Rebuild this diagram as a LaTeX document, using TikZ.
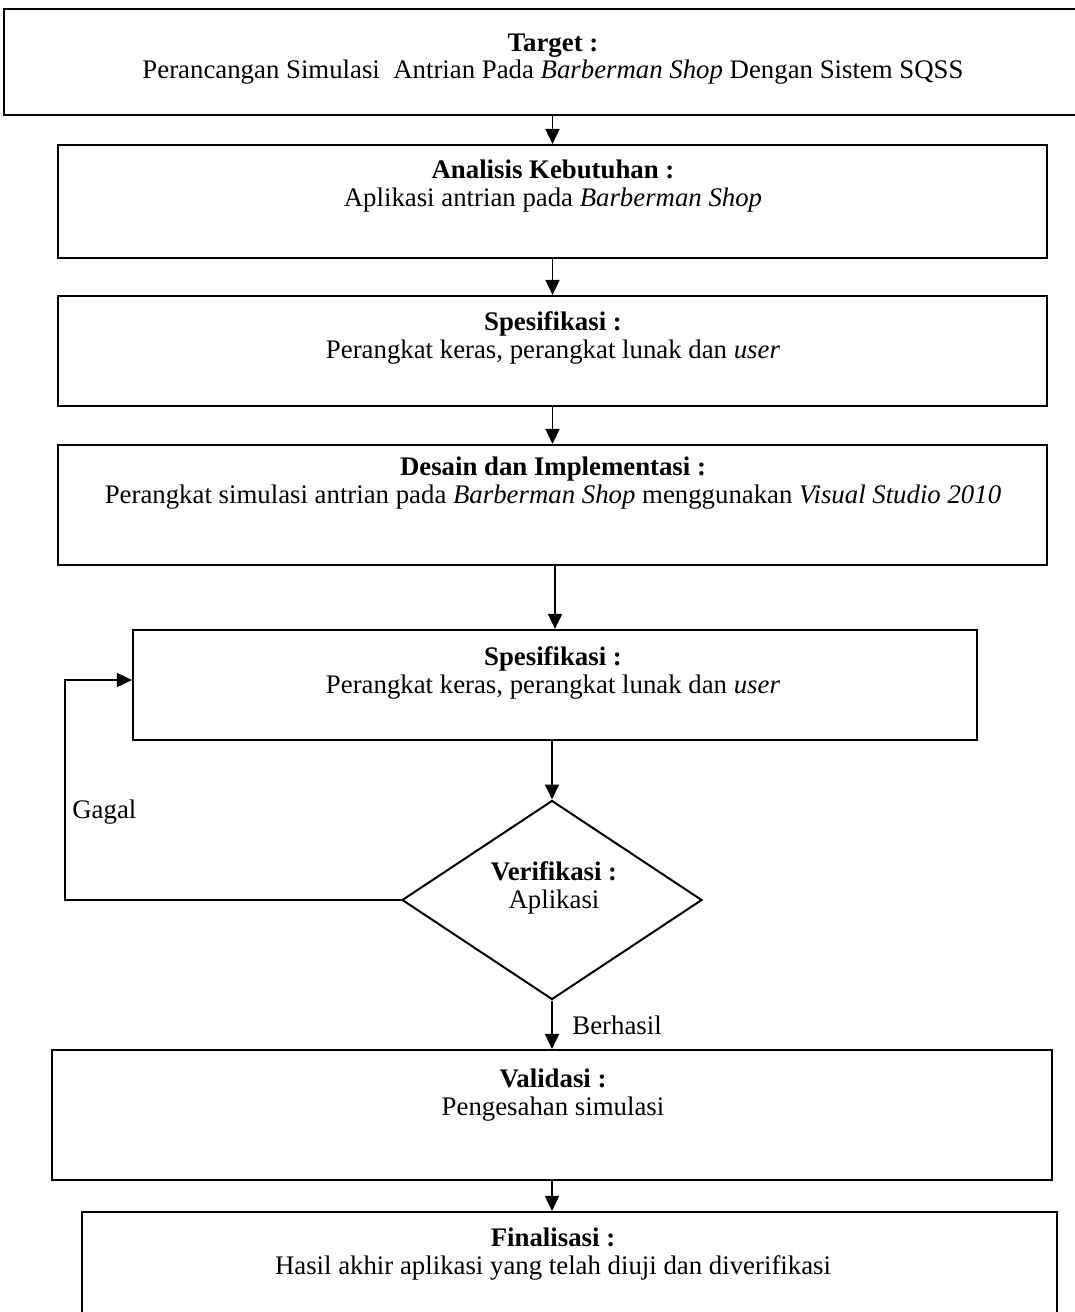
\documentclass[tikz,border=0pt]{standalone}
\usepackage{fontspec}
\setmainfont{Liberation Serif}
\usetikzlibrary{arrows.meta,shapes.geometric}
\begin{document}
\begin{tikzpicture}[x=0.5pt,y=-0.5pt,
  box/.style={draw,line width=1.1pt,rectangle,inner sep=0pt},
  txt/.style={align=center,inner sep=0pt,font=\fontsize{13.4pt}{13.6pt}\selectfont},
  lbl/.style={inner sep=0pt,font=\fontsize{13.4pt}{13.6pt}\selectfont},
  arr/.style={line width=0.9pt,-{Triangle[length=7.5pt,width=7pt]}},
  conn/.style={line width=0.9pt}]
\useasboundingbox (0,0) rectangle (1075,1312);
\clip (0,0) rectangle (1075,1312);
% boxes
\node[box,minimum width=548pt,minimum height=53pt] (b1) at (552,62) {};
\node[box,minimum width=494.5pt,minimum height=56.5pt] (b2) at (552.5,201.5) {};
\node[box,minimum width=494.5pt,minimum height=55pt] (b3) at (552.5,351) {};
\node[box,minimum width=494.5pt,minimum height=60pt] (b4) at (552.5,505) {};
\node[box,minimum width=422pt,minimum height=55pt] (b5) at (555,685) {};
\node[draw,line width=1pt,diamond,inner sep=0pt,minimum width=150pt,minimum height=99.5pt] (d) at (552,900) {};
\node[box,minimum width=500pt,minimum height=65pt] (b6) at (552,1115) {};
\node[box,minimum width=487.5pt,minimum height=69pt] (b7) at (569.5,1281) {};
% texts
\node[txt] (t1) at (553,59) {\textbf{Target :}\\Perancangan Simulasi\ \ Antrian Pada \textit{Barberman Shop} Dengan Sistem SQSS};
\node[txt] (t2) at (553,186) {\textbf{Analisis Kebutuhan :}\\Aplikasi antrian pada \textit{Barberman Shop}};
\node[txt] (t3) at (553,338) {\textbf{Spesifikasi :}\\Perangkat keras, perangkat lunak dan \textit{user}};
\node[txt] (t4) at (553,483) {\textbf{Desain dan Implementasi :}\\Perangkat simulasi antrian pada \textit{Barberman Shop} menggunakan \textit{Visual Studio 2010}};
\node[txt] (t5) at (553,673) {\textbf{Spesifikasi :}\\Perangkat keras, perangkat lunak dan \textit{user}};
\node[txt] (t6) at (554,888) {\textbf{Verifikasi :}\\Aplikasi};
\node[txt] (t7) at (553,1095) {\textbf{Validasi :}\\Pengesahan simulasi};
\node[txt] (t8) at (553,1254) {\textbf{Finalisasi :}\\Hasil akhir aplikasi yang telah diuji dan diverifikasi};
\node[lbl,anchor=west] (gagal) at (72,812) {Gagal};
\node[lbl,anchor=west] (berhasil) at (572,1025) {Berhasil};
% connectors
\draw[arr] (b1.south -| b2.north) -- (b2.north);
\draw[arr] (b2.south) -- (b3.north);
\draw[arr] (b3.south) -- (b4.north);
\draw[arr] (b4.south -| b5.north) -- (b5.north);
\draw[arr] (b5.south -| d.north) -- (d.north);
\draw[arr] (d.south) -- (d.south |- b6.north);
\draw[arr] (b6.south) -- (b6.south |- b7.north);
\coordinate (g) at (65,680);
\draw[arr] (d.west) -| (g) -- (g -| b5.west);
\end{tikzpicture}
\end{document}
